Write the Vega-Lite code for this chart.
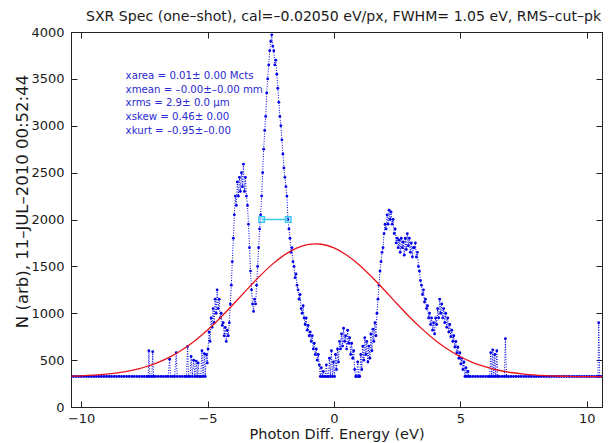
{
"$schema": "https://vega.github.io/schema/vega-lite/v6.json",
"width": 531, "height": 375,
"autosize": {"type": "none"},
"padding": {"left": 71, "top": 32, "right": 13, "bottom": 36},
"background": "white",
"title": {"text": "SXR Spec (one–shot), cal=–0.02050 eV/px, FWHM= 1.05 eV, RMS–cut–pk", "anchor": "start", "frame": "group", "dx": 15, "offset": -9, "baseline": "alphabetic", "font": "DejaVu Sans", "fontSize": 14.1, "fontWeight": "normal", "color": "#1a1a1a"},
"datasets": {
"spec": [
{"e":-10.38,"n":325},{"e":-10.3,"n":325},{"e":-10.2,"n":325},{"e":-10.1,"n":325},{"e":-10.0,"n":325},{"e":-9.9,"n":325},{"e":-9.8,"n":325},{"e":-9.7,"n":325},{"e":-9.6,"n":325},{"e":-9.5,"n":325},{"e":-9.4,"n":325},{"e":-9.3,"n":325},{"e":-9.2,"n":325},{"e":-9.1,"n":325},{"e":-9.0,"n":325},{"e":-8.9,"n":325},{"e":-8.8,"n":325},{"e":-8.7,"n":325},{"e":-8.6,"n":325},{"e":-8.5,"n":325},{"e":-8.4,"n":325},{"e":-8.3,"n":325},{"e":-8.2,"n":325},{"e":-8.1,"n":325},{"e":-8.0,"n":325},{"e":-7.9,"n":325},{"e":-7.8,"n":325},{"e":-7.7,"n":325},{"e":-7.6,"n":325},{"e":-7.5,"n":325},{"e":-7.4,"n":325},
{"e":-7.35,"n":325},{"e":-7.32,"n":600},{"e":-7.28,"n":325},{"e":-7.2,"n":325},{"e":-7.17,"n":590},{"e":-7.13,"n":325},{"e":-7.05,"n":325},{"e":-6.95,"n":325},{"e":-6.85,"n":325},{"e":-6.75,"n":325},{"e":-6.65,"n":325},{"e":-6.56,"n":325},{"e":-6.5,"n":510},{"e":-6.46,"n":325},{"e":-6.38,"n":325},{"e":-6.3,"n":325},{"e":-6.24,"n":580},{"e":-6.2,"n":325},{"e":-6.1,"n":325},{"e":-6.0,"n":325},{"e":-5.9,"n":325},{"e":-5.83,"n":325},{"e":-5.79,"n":645},{"e":-5.75,"n":325},{"e":-5.69,"n":325},{"e":-5.65,"n":540},{"e":-5.6,"n":325},{"e":-5.55,"n":500},{"e":-5.5,"n":325},{"e":-5.45,"n":490},{"e":-5.41,"n":325},{"e":-5.37,"n":470},{"e":-5.33,"n":325},{"e":-5.27,"n":325},{"e":-5.22,"n":600},{"e":-5.18,"n":325},{"e":-5.13,"n":570},{"e":-5.09,"n":325},{"e":-5.05,"n":560},{"e":-5.01,"n":470},
{"e":-4.98,"n":620},{"e":-4.94,"n":800},{"e":-4.90,"n":700},{"e":-4.86,"n":950},{"e":-4.82,"n":850},{"e":-4.78,"n":1050},{"e":-4.74,"n":900},{"e":-4.70,"n":1150},{"e":-4.66,"n":1000},{"e":-4.62,"n":1250},{"e":-4.58,"n":1050},{"e":-4.54,"n":1150},{"e":-4.50,"n":950},{"e":-4.46,"n":1000},{"e":-4.42,"n":870},{"e":-4.38,"n":900},{"e":-4.34,"n":760},{"e":-4.30,"n":850},{"e":-4.26,"n":700},{"e":-4.22,"n":820},{"e":-4.18,"n":760},{"e":-4.14,"n":900},{"e":-4.10,"n":1100},{"e":-4.06,"n":1300},{"e":-4.02,"n":1550},{"e":-3.98,"n":1800},{"e":-3.94,"n":2050},{"e":-3.90,"n":2250},{"e":-3.86,"n":2150},{"e":-3.82,"n":2400},{"e":-3.78,"n":2250},{"e":-3.74,"n":2450},{"e":-3.70,"n":2300},{"e":-3.66,"n":2500},{"e":-3.62,"n":2350},{"e":-3.58,"n":2590},{"e":-3.54,"n":2300},{"e":-3.50,"n":2450},{"e":-3.46,"n":2250},{"e":-3.42,"n":2150},{"e":-3.38,"n":1950},{"e":-3.34,"n":1700},{"e":-3.30,"n":1450},{"e":-3.26,"n":1250},{"e":-3.22,"n":1100},{"e":-3.18,"n":1020},{"e":-3.14,"n":1150},{"e":-3.10,"n":1100},{"e":-3.06,"n":1300},{"e":-3.02,"n":1500},{"e":-2.98,"n":1700},{"e":-2.94,"n":1900},{"e":-2.90,"n":2050},{"e":-2.86,"n":2250},{"e":-2.82,"n":2500},{"e":-2.78,"n":2750},{"e":-2.74,"n":2950},{"e":-2.70,"n":3100},{"e":-2.66,"n":3350},{"e":-2.62,"n":3500},{"e":-2.58,"n":3650},{"e":-2.54,"n":3800},{"e":-2.50,"n":3900},{"e":-2.46,"n":3970},{"e":-2.42,"n":3850},{"e":-2.38,"n":3800},{"e":-2.34,"n":3650},{"e":-2.30,"n":3700},{"e":-2.26,"n":3550},{"e":-2.22,"n":3400},{"e":-2.18,"n":3250},{"e":-2.14,"n":3100},{"e":-2.10,"n":3000},{"e":-2.06,"n":2850},{"e":-2.02,"n":2700},{"e":-1.98,"n":2550},{"e":-1.94,"n":2450},{"e":-1.90,"n":2350},{"e":-1.86,"n":2250},{"e":-1.82,"n":2000},{"e":-1.78,"n":1900},{"e":-1.74,"n":1800},{"e":-1.70,"n":1650},{"e":-1.66,"n":1700},{"e":-1.62,"n":1550},{"e":-1.58,"n":1500},{"e":-1.54,"n":1380},{"e":-1.50,"n":1420},{"e":-1.46,"n":1300},{"e":-1.42,"n":1250},{"e":-1.38,"n":1150},{"e":-1.34,"n":1200},{"e":-1.30,"n":1050},{"e":-1.26,"n":1000},{"e":-1.22,"n":1080},{"e":-1.18,"n":950},{"e":-1.14,"n":880},{"e":-1.10,"n":950},{"e":-1.06,"n":820},{"e":-1.02,"n":870},{"e":-0.98,"n":760},{"e":-0.94,"n":800},{"e":-0.90,"n":700},{"e":-0.86,"n":760},{"e":-0.82,"n":620},{"e":-0.78,"n":680},{"e":-0.74,"n":560},{"e":-0.70,"n":620},{"e":-0.66,"n":500},{"e":-0.62,"n":560},{"e":-0.58,"n":450},{"e":-0.54,"n":325},{"e":-0.50,"n":420},{"e":-0.46,"n":325},{"e":-0.42,"n":380},{"e":-0.38,"n":325},{"e":-0.34,"n":325},{"e":-0.30,"n":450},{"e":-0.26,"n":325},{"e":-0.22,"n":325},{"e":-0.18,"n":520},{"e":-0.14,"n":325},{"e":-0.10,"n":600},{"e":-0.06,"n":325},{"e":-0.02,"n":480},{"e":0.02,"n":325},{"e":0.06,"n":560},{"e":0.10,"n":400},{"e":0.14,"n":620},{"e":0.18,"n":480},{"e":0.22,"n":700},{"e":0.26,"n":620},{"e":0.30,"n":780},{"e":0.34,"n":650},{"e":0.38,"n":840},{"e":0.42,"n":700},{"e":0.46,"n":760},{"e":0.50,"n":620},{"e":0.54,"n":820},{"e":0.58,"n":680},{"e":0.62,"n":740},{"e":0.66,"n":560},{"e":0.70,"n":680},{"e":0.74,"n":520},{"e":0.78,"n":600},{"e":0.82,"n":400},{"e":0.86,"n":325},{"e":0.90,"n":325},{"e":0.94,"n":480},{"e":0.98,"n":325},{"e":1.02,"n":325},{"e":1.06,"n":560},{"e":1.10,"n":400},{"e":1.14,"n":650},{"e":1.18,"n":500},{"e":1.22,"n":740},{"e":1.26,"n":560},{"e":1.30,"n":700},{"e":1.34,"n":480},{"e":1.38,"n":650},{"e":1.42,"n":520},{"e":1.46,"n":780},{"e":1.50,"n":600},{"e":1.54,"n":830},{"e":1.58,"n":700},{"e":1.62,"n":900},{"e":1.66,"n":760},{"e":1.70,"n":1000},{"e":1.74,"n":1150},{"e":1.78,"n":1300},{"e":1.82,"n":1450},{"e":1.86,"n":1550},{"e":1.90,"n":1650},{"e":1.94,"n":1700},{"e":1.98,"n":1850},{"e":2.02,"n":1950},{"e":2.06,"n":1900},{"e":2.10,"n":2050},{"e":2.14,"n":1950},{"e":2.18,"n":2100},{"e":2.22,"n":2000},{"e":2.26,"n":2080},{"e":2.30,"n":1950},{"e":2.34,"n":2000},{"e":2.38,"n":1850},{"e":2.42,"n":1900},{"e":2.46,"n":1750},{"e":2.50,"n":1800},{"e":2.54,"n":1700},{"e":2.58,"n":1780},{"e":2.62,"n":1650},{"e":2.66,"n":1800},{"e":2.70,"n":1700},{"e":2.74,"n":1760},{"e":2.78,"n":1620},{"e":2.82,"n":1800},{"e":2.86,"n":1680},{"e":2.90,"n":1850},{"e":2.94,"n":1720},{"e":2.98,"n":1800},{"e":3.02,"n":1650},{"e":3.06,"n":1750},{"e":3.10,"n":1600},{"e":3.14,"n":1700},{"e":3.18,"n":1700},{"e":3.22,"n":1750},{"e":3.26,"n":1600},{"e":3.30,"n":1650},{"e":3.34,"n":1500},{"e":3.38,"n":1450},{"e":3.42,"n":1350},{"e":3.46,"n":1300},{"e":3.50,"n":1200},{"e":3.54,"n":1250},{"e":3.58,"n":1120},{"e":3.62,"n":1150},{"e":3.66,"n":1050},{"e":3.70,"n":1080},{"e":3.74,"n":950},{"e":3.78,"n":1000},{"e":3.82,"n":880},{"e":3.86,"n":950},{"e":3.90,"n":820},{"e":3.94,"n":900},{"e":3.98,"n":780},{"e":4.02,"n":950},{"e":4.06,"n":880},{"e":4.10,"n":1050},{"e":4.14,"n":950},{"e":4.18,"n":1150},{"e":4.22,"n":1000},{"e":4.26,"n":1100},{"e":4.30,"n":950},{"e":4.34,"n":1050},{"e":4.38,"n":900},{"e":4.42,"n":1000},{"e":4.46,"n":850},{"e":4.50,"n":950},{"e":4.54,"n":800},{"e":4.58,"n":880},{"e":4.62,"n":750},{"e":4.66,"n":820},{"e":4.70,"n":700},{"e":4.74,"n":760},{"e":4.78,"n":640},{"e":4.82,"n":700},{"e":4.86,"n":580},{"e":4.90,"n":640},{"e":4.94,"n":520},{"e":4.98,"n":580},{"e":5.02,"n":460},{"e":5.06,"n":520},{"e":5.10,"n":400},{"e":5.14,"n":480},{"e":5.18,"n":325},{"e":5.22,"n":420},{"e":5.26,"n":325},{"e":5.30,"n":380},{"e":5.34,"n":325},
{"e":5.4,"n":325},{"e":5.5,"n":325},{"e":5.6,"n":325},{"e":5.7,"n":325},{"e":5.8,"n":325},{"e":5.9,"n":325},{"e":6.0,"n":325},{"e":6.1,"n":325},{"e":6.16,"n":325},{"e":6.2,"n":580},{"e":6.24,"n":325},{"e":6.28,"n":610},{"e":6.32,"n":325},{"e":6.36,"n":560},{"e":6.4,"n":325},{"e":6.44,"n":600},{"e":6.48,"n":325},{"e":6.55,"n":325},{"e":6.65,"n":325},{"e":6.74,"n":325},{"e":6.78,"n":730},{"e":6.82,"n":325},{"e":6.9,"n":325},{"e":7.0,"n":325},{"e":7.1,"n":325},{"e":7.2,"n":325},{"e":7.3,"n":325},{"e":7.4,"n":325},{"e":7.5,"n":325},{"e":7.6,"n":325},{"e":7.7,"n":325},{"e":7.8,"n":325},{"e":7.9,"n":325},{"e":8.0,"n":325},{"e":8.1,"n":325},{"e":8.2,"n":325},{"e":8.3,"n":325},{"e":8.4,"n":325},{"e":8.5,"n":325},{"e":8.6,"n":325},{"e":8.7,"n":325},{"e":8.8,"n":325},{"e":8.9,"n":325},{"e":9.0,"n":325},{"e":9.1,"n":325},{"e":9.2,"n":325},{"e":9.3,"n":325},{"e":9.4,"n":325},{"e":9.5,"n":325},{"e":9.6,"n":325},{"e":9.7,"n":325},{"e":9.8,"n":325},{"e":9.9,"n":325},{"e":10.0,"n":325},{"e":10.1,"n":325},{"e":10.2,"n":325},{"e":10.3,"n":325},{"e":10.4,"n":325},{"e":10.44,"n":325},{"e":10.47,"n":900},{"e":10.51,"n":325},{"e":10.59,"n":325}
],
"fit": [
{"e":-10.4,"n":329},{"e":-10,"n":332},{"e":-9.5,"n":339},{"e":-9,"n":350},{"e":-8.5,"n":366},{"e":-8,"n":390},{"e":-7.5,"n":424},{"e":-7,"n":471},{"e":-6.5,"n":532},{"e":-6,"n":610},{"e":-5.5,"n":707},{"e":-5,"n":821},{"e":-4.5,"n":950},{"e":-4,"n":1090},{"e":-3.5,"n":1236},{"e":-3,"n":1378},{"e":-2.5,"n":1508},{"e":-2,"n":1615},{"e":-1.5,"n":1693},{"e":-1,"n":1734},{"e":-0.735,"n":1740},{"e":-0.5,"n":1736},{"e":0,"n":1697},{"e":0.5,"n":1621},{"e":1,"n":1515},{"e":1.5,"n":1386},{"e":2,"n":1245},{"e":2.5,"n":1099},{"e":3,"n":958},{"e":3.5,"n":828},{"e":4,"n":713},{"e":4.5,"n":616},{"e":5,"n":536},{"e":5.5,"n":474},{"e":6,"n":427},{"e":6.5,"n":392},{"e":7,"n":368},{"e":7.5,"n":351},{"e":8,"n":340},{"e":8.5,"n":333},{"e":9,"n":328},{"e":9.5,"n":325},{"e":10,"n":324},{"e":10.6,"n":323}
],
"fwhm": [{"e":-2.86,"n":2000},{"e":-1.81,"n":2000}],
"stats": [
{"e":-8.24,"n":3531,"t":"xarea =  0.01± 0.00 Mcts"},
{"e":-8.24,"n":3381,"t":"xmean = –0.00±–0.00 mm"},
{"e":-8.24,"n":3243,"t":"xrms =  2.9±  0.0 μm"},
{"e":-8.24,"n":3093,"t":"xskew =  0.46± 0.00"},
{"e":-8.24,"n":2944,"t":"xkurt = –0.95±–0.00"}
]
},
"resolve": {"axis": {"x": "independent", "y": "independent"}},
"layer": [
{
"data": {"name": "spec"},
"mark": {"type": "line", "color": "#0000e6", "strokeWidth": 1, "strokeDash": [1, 1.5], "clip": true, "point": {"filled": true, "size": 8, "color": "#0000e6"}},
"encoding": {
"x": {"field": "e", "type": "quantitative", "scale": {"domain": [-10.4, 10.6], "nice": false, "zero": false},
 "axis": {"orient": "bottom", "values": [-10, -5, 0, 5, 10], "format": "d", "title": "Photon Diff. Energy (eV)", "titleFontSize": 14.5, "titleY": 27, "titleBaseline": "middle", "labelPadding": 11}},
"y": {"field": "n", "type": "quantitative", "scale": {"domain": [0, 4000], "nice": false},
 "axis": {"orient": "left", "values": [0, 500, 1000, 1500, 2000, 2500, 3000, 3500, 4000], "format": "d", "title": "N (arb), 11–JUL–2010 00:52:44", "titleFontSize": 16.5, "titleX": -49, "titleY": 169, "titleAlign": "center", "titleBaseline": "middle", "labelPadding": 13}}
}
},
{
"data": {"name": "fit"},
"mark": {"type": "line", "color": "#e8141c", "strokeWidth": 1.3, "interpolate": "monotone"},
"encoding": {
"x": {"field": "e", "type": "quantitative", "axis": null},
"y": {"field": "n", "type": "quantitative", "axis": null}
}
},
{
"data": {"name": "fwhm"},
"mark": {"type": "line", "color": "#3cc8ee", "strokeWidth": 1.5, "point": {"shape": "square", "filled": false, "size": 30, "stroke": "#3cc8ee", "strokeWidth": 1.5}},
"encoding": {
"x": {"field": "e", "type": "quantitative", "axis": {"orient": "top", "values": [-10, -5, 0, 5, 10], "labels": false, "title": null}},
"y": {"field": "n", "type": "quantitative", "axis": {"orient": "right", "values": [0, 500, 1000, 1500, 2000, 2500, 3000, 3500, 4000], "labels": false, "title": null}}
}
},
{
"data": {"name": "stats"},
"mark": {"type": "text", "align": "left", "baseline": "middle", "font": "DejaVu Sans", "fontSize": 10.2, "color": "#2a2ad0"},
"encoding": {
"x": {"field": "e", "type": "quantitative", "axis": null},
"y": {"field": "n", "type": "quantitative", "axis": null},
"text": {"field": "t"}
}
}
],
"config": {
"font": "DejaVu Sans",
"view": {"stroke": "#222", "strokeWidth": 1},
"axis": {"grid": false, "domainColor": "#222", "tickColor": "#222", "tickSize": -6, "tickWidth": 1, "labelColor": "#1a1a1a", "titleColor": "#1a1a1a", "labelFont": "DejaVu Sans", "titleFont": "DejaVu Sans", "labelFontSize": 13, "titleFontWeight": "normal", "labelFlush": false}
}
}
